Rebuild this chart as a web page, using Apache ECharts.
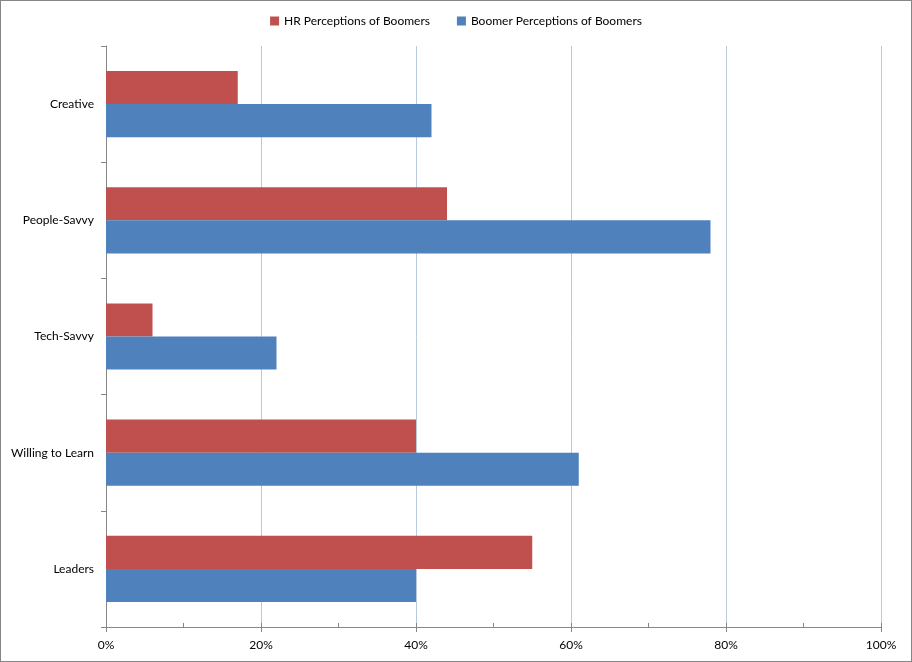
<!DOCTYPE html>
<html>
<head>
<meta charset="utf-8">
<script src="https://cdn.jsdelivr.net/npm/echarts@6/dist/echarts.min.js"></script>
<style>
html,body{margin:0;padding:0;background:#fff;}
#chart{width:912px;height:662px;box-sizing:border-box;border:1px solid #868686;}
</style>
</head>
<body>
<div id="chart"></div>
<script>
const categories = ["Creative", "People-Savvy", "Tech-Savvy", "Willing to Learn", "Leaders"];
const hrValues = [17, 44, 6, 40, 55];
const boomerValues = [42, 78, 22, 61, 40];
const seriesNames = ["HR Perceptions of Boomers", "Boomer Perceptions of Boomers"];
const seriesColors = ["#C0504D", "#4F81BD"];

const chart = echarts.init(document.getElementById('chart'), null, {renderer: 'canvas'});
const font = 'Lato, "Open Sans", sans-serif';
const option = {
  animation: false,
  textStyle: {fontFamily: font},
  legend: {
    top: 9,
    left: 'center',
    itemWidth: 9,
    itemHeight: 9,
    itemGap: 27,
    icon: 'rect',
    textStyle: {fontFamily: font, fontSize: 12, color: '#000'},
    data: seriesNames
  },
  grid: {left: 105, right: 30, top: 45, bottom: 34, containLabel: false},
  xAxis: [{
    type: 'value',
    min: 0, max: 100, interval: 20,
    axisLine: {show: true, lineStyle: {color: '#868686', width: 1}},
    axisTick: {show: true, inside: false, length: 5, lineStyle: {color: '#868686'}},
    axisLabel: {formatter: '{value}%', color: '#000', fontFamily: font, fontSize: 12, margin: 12},
    splitLine: {show: true, lineStyle: {color: '#B9C9DC', width: 1}}
  }, {
    type: 'value',
    position: 'bottom',
    min: 0, max: 100, interval: 10,
    axisLine: {show: false},
    axisTick: {show: true, inside: true, length: 4, lineStyle: {color: '#868686'}},
    axisLabel: {show: false},
    splitLine: {show: false}
  }],
  yAxis: {
    type: 'category',
    data: categories,
    inverse: true,
    axisLine: {show: true, lineStyle: {color: '#868686', width: 1}},
    axisTick: {show: true, inside: false, length: 5, lineStyle: {color: '#868686'}},
    axisLabel: {color: '#000', fontFamily: font, fontSize: 12, margin: 12},
    splitLine: {show: false}
  },
  series: [{
    name: seriesNames[0],
    type: 'bar',
    data: hrValues,
    itemStyle: {color: seriesColors[0]},
    barGap: '0%',
    barCategoryGap: '43%'
  }, {
    name: seriesNames[1],
    type: 'bar',
    data: boomerValues,
    itemStyle: {color: seriesColors[1]},
    barGap: '0%',
    barCategoryGap: '43%'
  }]
};
chart.setOption(option);
</script>
</body>
</html>
